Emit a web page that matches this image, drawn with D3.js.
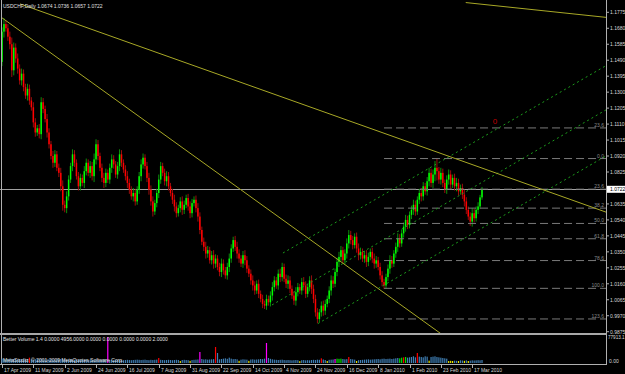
<!DOCTYPE html>
<html>
<head>
<meta charset="utf-8">
<script src="https://cdn.jsdelivr.net/npm/d3@7"></script>
<style>
body { margin: 0; background: #000; }
svg { display: block; font-family: "Liberation Sans", "DejaVu Sans", sans-serif; }
</style>
</head>
<body>
<script>
// USDCHF daily, 17 Apr 2009 .. 24 Mar 2010
var firstOpen = 1.1480;
var closes = [
  1.1660,1.1705,1.1680,1.1630,1.1585,1.1430,1.1565,1.1500,1.1440,1.1370,
  1.1410,1.1330,1.1280,1.1320,1.1250,1.1210,1.1120,1.1060,1.1085,1.1050,
  1.1240,1.1200,1.1140,1.1060,1.0990,1.0920,1.0880,1.0930,1.0850,1.0820,
  1.0740,1.0630,1.0610,1.0680,1.0780,1.0860,1.0930,1.0880,1.0800,1.0740,
  1.0790,1.0760,1.0830,1.0880,1.0820,1.0860,1.0800,1.0900,1.0990,1.0920,
  1.0850,1.0790,1.0760,1.0820,1.0780,1.0850,1.0900,1.0870,1.0810,1.0860,
  1.0930,1.0880,1.0840,1.0800,1.0760,1.0720,1.0680,1.0700,1.0650,1.0720,
  1.0800,1.0870,1.0910,1.0860,1.0790,1.0720,1.0650,1.0590,1.0640,1.0700,
  1.0780,1.0860,1.0820,1.0770,1.0800,1.0740,1.0700,1.0660,1.0620,1.0580,
  1.0610,1.0650,1.0600,1.0630,1.0670,1.0620,1.0580,1.0640,1.0660,1.0610,
  1.0560,1.0480,1.0410,1.0380,1.0340,1.0360,1.0300,1.0330,1.0280,1.0310,
  1.0260,1.0230,1.0280,1.0240,1.0210,1.0260,1.0310,1.0370,1.0420,1.0380,
  1.0340,1.0310,1.0280,1.0330,1.0300,1.0250,1.0220,1.0180,1.0150,1.0120,
  1.0160,1.0100,1.0070,1.0040,1.0030,1.0070,1.0050,1.0090,1.0140,1.0180,
  1.0150,1.0220,1.0200,1.0260,1.0190,1.0160,1.0180,1.0130,1.0090,1.0060,
  1.0110,1.0140,1.0120,1.0170,1.0150,1.0100,1.0140,1.0180,1.0130,1.0070,
  0.9990,0.9950,0.9990,1.0030,1.0000,1.0040,1.0070,1.0120,1.0180,1.0160,
  1.0230,1.0290,1.0320,1.0360,1.0300,1.0340,1.0400,1.0450,1.0420,1.0390,
  1.0440,1.0370,1.0330,1.0350,1.0310,1.0330,1.0290,1.0320,1.0350,1.0310,
  1.0280,1.0300,1.0260,1.0210,1.0170,1.0150,1.0200,1.0250,1.0300,1.0280,
  1.0340,1.0380,1.0430,1.0400,1.0460,1.0500,1.0540,1.0510,1.0570,1.0600,
  1.0630,1.0590,1.0660,1.0700,1.0680,1.0740,1.0710,1.0770,1.0820,1.0760,
  1.0810,1.0850,1.0830,1.0780,1.0820,1.0760,1.0720,1.0780,1.0810,1.0750,
  1.0790,1.0740,1.0760,1.0710,1.0730,1.0690,1.0650,1.0600,1.0560,1.0530,
  1.0580,1.0550,1.0600,1.0620,1.0674,1.0722
];
// shadow length beyond the body, pips
var wicks = [
  25,35,20,25,30,40,30,25,30,25,
  30,25,20,30,25,20,30,25,20,25,
  30,25,20,30,25,20,30,25,20,25,
  30,35,25,30,25,20,30,25,20,25,
  25,20,30,25,20,30,25,35,30,25,
  20,25,30,25,20,25,30,25,20,25,
  30,25,20,25,30,25,20,30,25,20,
  25,30,25,20,25,30,25,30,20,25,
  30,25,20,25,30,25,20,25,30,25,
  20,25,30,25,20,25,30,25,20,25,
  30,25,20,25,30,25,20,25,30,25,
  20,25,30,25,20,25,30,25,20,25,
  30,25,20,25,30,25,20,25,30,25,
  20,25,20,25,20,25,20,25,30,25,
  20,25,30,25,20,25,30,25,20,25,
  30,25,20,25,30,25,20,25,30,25,
  25,25,20,25,30,25,20,25,30,25,
  20,25,30,25,20,25,30,30,25,25,
  20,25,30,25,20,25,30,25,20,25,
  30,25,20,25,25,20,20,25,30,25,
  20,25,30,25,20,25,30,25,20,25,
  30,25,20,25,30,25,20,25,30,25,
  30,40,55,25,30,25,20,25,30,25,
  20,25,30,25,20,25,30,25,20,25,
  30,25,20,25,15,14
];
var volumes = [
  13000,12000,11000,12500,13000,11500,12000,11000,10500,12000,
  11500,10000,11000,12000,16000,11000,10500,11500,12000,11000,
  12500,11000,10500,11000,11500,12000,10000,10500,11000,11500,
  12000,12500,11000,10000,10500,11000,10000,9500,10000,10500,
  10000,9500,10000,10500,9000,9500,10000,9500,9000,9500,
  10000,9500,10500,11000,77900,9000,9500,9000,8500,9000,
  9500,9000,8500,9000,9500,9000,8500,9000,9500,10000,
  9500,9000,9500,10000,9000,8500,9500,9000,9500,10000,
  15000,9500,9000,8500,9000,9500,9000,8500,9000,9500,
  9000,6000,9000,9500,9000,8500,6500,9000,9500,10000,
  10500,33000,12000,10500,11000,10000,10500,11000,11500,48000,
  30000,11000,12000,13000,14000,12500,16000,13000,11500,12000,
  11000,6500,10000,11000,10500,10000,6500,10500,11000,10000,
  10500,11000,12000,11500,13000,60000,15000,12500,11000,10000,
  9500,9000,9500,10000,9000,8500,9000,8500,8000,8500,
  9000,8500,5500,8500,9000,8000,8500,8000,9000,9500,
  9000,10000,9500,14000,10500,9000,6000,9500,10000,10500,
  12000,13000,12500,13000,12000,11000,11500,18000,12000,11000,
  10000,6000,8500,9000,9500,10000,10500,11000,10000,10500,
  11000,11500,12000,11000,12500,13000,12000,12500,13000,12000,
  13000,14000,15000,14000,16000,17000,18000,16000,17000,18000,
  20000,17000,30000,19000,18000,17000,20000,19000,7000,18000,
  19000,20000,18000,17000,16000,15000,14000,13000,6000,6500,
  6000,7000,6500,6000,8000,7500,6500,8000,6000,7000,
  8000,7500,8000,8500,8000,9000
];
// Better Volume bar classes by bar index
var climaxHigh = [14, 80, 109, 163, 177, 205, 212];
var climaxChurn = [54, 101, 135, 170];
var churnBars = [171, 172, 173, 203, 204, 206];
var lowVolume = [91, 96, 121, 126, 152, 166, 181, 218, 228, 229, 230, 233, 236, 238];

var dateLabels = ["17 Apr 2009","11 May 2009","2 Jun 2009","24 Jun 2009","16 Jul 2009","7 Aug 2009",
  "31 Aug 2009","22 Sep 2009","14 Oct 2009","4 Nov 2009","24 Nov 2009","16 Dec 2009",
  "8 Jan 2010","1 Feb 2010","23 Feb 2010","17 Mar 2010"];
var dateIdx = [0,16,32,48,64,80,96,112,128,144,160,176,192,208,224,240];
var priceTicks = [1.1775,1.1680,1.1585,1.1490,1.1395,1.1300,1.1205,1.1110,1.1015,1.0920,1.0825,
  1.0730,1.0635,1.0540,1.0445,1.0350,1.0255,1.0160,1.0065,0.9970,0.9875];
var bid = 1.0722;

// fibonacci from the Jan low (bar 195) to the Feb high (bar 222)
var fibLow = 1.0133, fibHigh = 1.0905, fibStart = 195;
var fibLevels = [-23.6, 0, 23.6, 38.2, 50, 61.8, 78.6, 100, 123.6];
var fibNames = ["23.6","0.0","23.6","38.2","50.0","61.8","78.6","100.0","123.6"];

// trend lines: [bar1, price1, bar2, price2, ray]
var trendLines = [
  [9.2, 1.1825, 284.7, 1.0684, true],
  [0, 1.1742, 150, 1.0484, true],
  [236.7, 1.1833, 308.2, 1.1745, true]
];
// channel lines (dotted green)
var channelLines = [
  [143.4, 1.0343, 308.2, 1.1457],
  [137.8, 1.0034, 308.2, 1.1194],
  [161.2, 0.9923, 308.2, 1.0920]
];

var W = 625, H = 374;
var axisX = 606, mainBottom = 333, volTop = 335, volBottom = 363;

var bars = closes.map(function(c, i) {
  var o = i === 0 ? firstOpen : closes[i - 1];
  var w = wicks[i] / 10000;
  return {i: i, o: o, c: c, h: Math.max(o, c) + w, l: Math.min(o, c) - w, v: volumes[i]};
});

var x = d3.scaleLinear().domain([0, 245]).range([2, 482]);
var y = d3.scaleLinear().domain([0.9875, 1.1775]).range([331.7, 12.3]);
var yv = d3.scaleLinear().domain([0, 77913.1]).range([volBottom, 337]);

var svg = d3.select("body").append("svg").attr("width", W).attr("height", H);
svg.append("rect").attr("width", W).attr("height", H).attr("fill", "#000");

svg.append("clipPath").attr("id", "mainClip").append("rect")
  .attr("x", 0).attr("y", 0).attr("width", axisX).attr("height", mainBottom);
var main = svg.append("g").attr("clip-path", "url(#mainClip)");

// bid line
main.append("line").attr("x1", 0).attr("x2", axisX)
  .attr("y1", Math.round(y(bid)) + 0.5).attr("y2", Math.round(y(bid)) + 0.5)
  .attr("stroke", "#a0a0a0").attr("stroke-width", 1);

// candles
var cg = main.append("g");
cg.selectAll("line.wick").data(bars).enter().append("line")
  .attr("class", "wick")
  .attr("x1", function(d) { return x(d.i); })
  .attr("x2", function(d) { return x(d.i); })
  .attr("y1", function(d) { return y(d.h); })
  .attr("y2", function(d) { return y(d.l); })
  .attr("stroke", function(d) { return d.c >= d.o ? "#0b8f0b" : "#9a0d0d"; })
  .attr("stroke-width", 1);
cg.selectAll("rect.body").data(bars).enter().append("rect")
  .attr("class", "body")
  .attr("x", function(d) { return x(d.i) - 0.75; })
  .attr("width", 1.5)
  .attr("y", function(d) { return y(Math.max(d.o, d.c)); })
  .attr("height", function(d) { return Math.max(1, Math.abs(y(d.o) - y(d.c))); })
  .attr("fill", function(d) { return d.c >= d.o ? "#00ff00" : "#ff0000"; });

// fibonacci levels
var fibG = main.append("g");
fibLevels.forEach(function(lv, k) {
  var p = fibHigh - (fibHigh - fibLow) * lv / 100;
  var yy = y(p);
  fibG.append("line").attr("x1", x(fibStart)).attr("x2", axisX)
    .attr("y1", yy).attr("y2", yy)
    .attr("stroke", "#7a7a7a").attr("stroke-width", 1).attr("stroke-dasharray", "8,4");
  fibG.append("text").attr("x", axisX - 2).attr("y", yy - 1)
    .attr("text-anchor", "end").attr("font-size", 5).attr("fill", "#8a8a8a")
    .text(fibNames[k]);
});

// channel
function extend(l) {
  var slope = (l[3] - l[1]) / (l[2] - l[0]);
  var i2 = x.invert(axisX + 5);
  return [l[0], l[1], i2, l[1] + slope * (i2 - l[0])];
}
channelLines.forEach(function(l) {
  var e = extend(l);
  main.append("line").attr("x1", x(e[0])).attr("y1", y(e[1]))
    .attr("x2", x(e[2])).attr("y2", y(e[3]))
    .attr("stroke", "#1c9c1c").attr("stroke-width", 1).attr("stroke-dasharray", "2,3");
});

// trend lines
trendLines.forEach(function(l) {
  var e = l[4] ? extend(l) : l;
  main.append("line").attr("x1", x(e[0])).attr("y1", y(e[1]))
    .attr("x2", x(e[2])).attr("y2", y(e[3]))
    .attr("stroke", "#a8a826").attr("stroke-width", 1);
});

// wave label
main.append("text").attr("x", 495).attr("y", 124).attr("text-anchor", "middle")
  .attr("font-size", 8).attr("fill", "#c00000").text("0");

// header
svg.append("text").attr("x", 3).attr("y", 8).attr("font-size", 5).attr("fill", "#e0e0e0")
  .text("USDCHF,Daily  1.0674 1.0736 1.0657 1.0722");

// frame lines
svg.append("line").attr("x1", 1.5).attr("x2", 1.5).attr("y1", 0).attr("y2", volBottom + 1)
  .attr("stroke", "#b0b0b0").attr("stroke-width", 1);
svg.append("line").attr("x1", axisX + 0.5).attr("x2", axisX + 0.5).attr("y1", 0).attr("y2", volBottom + 1)
  .attr("stroke", "#b0b0b0").attr("stroke-width", 1);
svg.append("rect").attr("x", 0).attr("y", mainBottom).attr("width", axisX + 1).attr("height", 2)
  .attr("fill", "#a8a8a8");
svg.append("line").attr("x1", 0).attr("x2", axisX + 1).attr("y1", volBottom + 1.5).attr("y2", volBottom + 1.5)
  .attr("stroke", "#b0b0b0").attr("stroke-width", 1);

// price axis
var pa = svg.append("g");
priceTicks.forEach(function(p) {
  pa.append("line").attr("x1", axisX).attr("x2", axisX + 3).attr("y1", y(p)).attr("y2", y(p))
    .attr("stroke", "#b0b0b0");
  pa.append("text").attr("x", axisX + 4).attr("y", y(p) + 2).attr("font-size", 5)
    .attr("fill", "#d8d8d8").text(d3.format(".4f")(p));
});
pa.append("rect").attr("x", axisX + 1).attr("y", y(bid) - 3.5).attr("width", W - axisX - 1).attr("height", 7)
  .attr("fill", "#ffffff");
pa.append("text").attr("x", axisX + 4).attr("y", y(bid) + 2).attr("font-size", 5)
  .attr("fill", "#000").text(d3.format(".4f")(bid));

// volume window
var vg = svg.append("g");
function volColor(i) {
  if (climaxChurn.indexOf(i) >= 0) return "#ff00ff";
  if (climaxHigh.indexOf(i) >= 0) return "#ff0000";
  if (churnBars.indexOf(i) >= 0) return "#00e000";
  if (lowVolume.indexOf(i) >= 0) return "#e8e800";
  return "#3f7fb5";
}
vg.selectAll("rect").data(bars).enter().append("rect")
  .attr("x", function(d) { return x(d.i) - 0.6; })
  .attr("width", 1.2)
  .attr("y", function(d) { return yv(d.v); })
  .attr("height", function(d) { return volBottom - yv(d.v); })
  .attr("fill", function(d) { return volColor(d.i); });
svg.append("text").attr("x", 3).attr("y", 341).attr("font-size", 5).attr("fill", "#e0e0e0")
  .text("Better Volume 1.4 0.0000 4956.0000 0.0000 0.0000 0.0000 0.0000 2.0000");
svg.append("text").attr("x", 3).attr("y", 362).attr("font-size", 5).attr("fill", "#e0e0e0")
  .text("MetaStudio: \u00a9 2001-2009 MetaQuotes Software Corp.");
svg.append("text").attr("x", axisX + 2).attr("y", 339).attr("font-size", 4.6).attr("fill", "#d8d8d8")
  .text("77913.1");
svg.append("text").attr("x", axisX + 3).attr("y", 363).attr("font-size", 5).attr("fill", "#d8d8d8")
  .text("0.00");

// time axis
dateIdx.forEach(function(i, k) {
  var xx = Math.round(x(i)) + 0.5;
  svg.append("line").attr("x1", xx).attr("x2", xx).attr("y1", volBottom + 1).attr("y2", volBottom + 5)
    .attr("stroke", "#b0b0b0");
  svg.append("text").attr("x", xx + 1.5).attr("y", 372).attr("font-size", 5).attr("fill", "#d8d8d8")
    .text(dateLabels[k]);
});
</script>
</body>
</html>
